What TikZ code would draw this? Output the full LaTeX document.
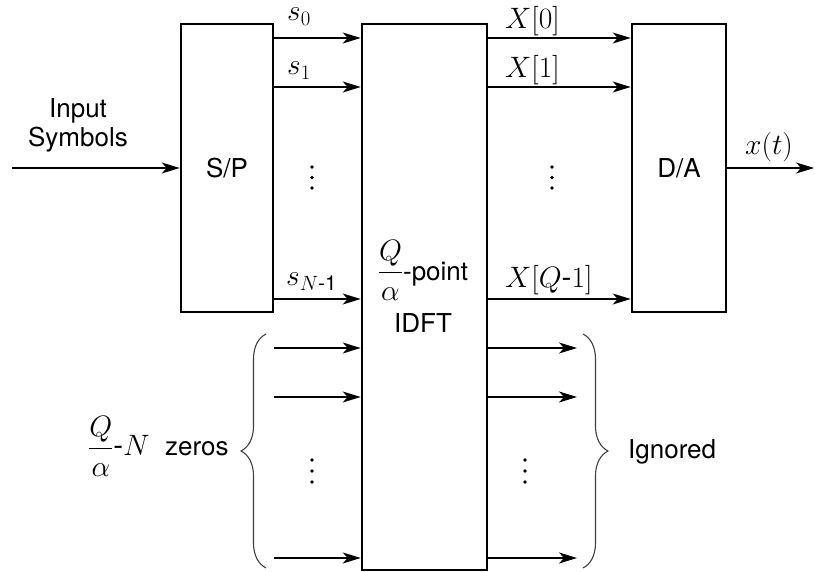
\RequirePackage{fix-cm}
\documentclass[tikz,border=0pt]{standalone}
\usepackage{amsmath}
\usepackage{fontspec}
\setmainfont{TeX Gyre Heros}
\usetikzlibrary{arrows.meta,decorations.pathreplacing}
\newcommand{\mfs}{\fontsize{29.5}{35}\selectfont}
\begin{document}
\begin{tikzpicture}[x=1pt,y=-1pt,
  font=\fontsize{26}{31}\selectfont,
  blk/.style={draw,line width=2.6pt,inner sep=0pt},
  arr/.style={line width=1.3pt,-{Stealth[length=18pt,width=11pt,inset=5pt]}},
  lbl/.style={inner sep=0pt,anchor=base west,font=\mfs},
  brc/.style={decorate,decoration={brace,amplitude=25pt},line width=1.1pt,draw=black!75},
  dotc/.style={fill=black}]
\useasboundingbox (0,0) rectangle (815,572);

% blocks
\node[blk,minimum width=92pt,minimum height=288pt] (sp) at (227,168) {S/P};
\node[blk,minimum width=125pt,minimum height=546pt] (idft) at (424.5,297) {};
\node[blk,minimum width=94pt,minimum height=288pt] (da) at (679,168) {D/A};
\node[inner sep=0pt,anchor=north,align=center] (idftlbl) at (423,240)
  {{\mfs$\dfrac{Q}{\alpha}$}-point\\[12pt]IDFT};

% row coordinates
\coordinate (in) at (12,168);
\coordinate (out) at (814,168);
\coordinate (r0) at (0,38);
\coordinate (r1) at (0,87);
\coordinate (rN) at (0,299);
\coordinate (z0) at (0,348);
\coordinate (z1) at (0,397);
\coordinate (zL) at (0,558);
\coordinate (ig0) at (577,348);
\coordinate (ig1) at (577,397);
\coordinate (igL) at (577,558);

% input / output
\node[inner sep=0pt,align=center,font=\fontsize{26}{29}\selectfont] (inlbl) at (78,125.5) {Input\\Symbols};
\draw[arr] (in) -- (sp.west |- in);
\draw[arr] (da.east |- out) -- (out);
\node[lbl] (xt) at (745,155) {$x(t)$};

% S/P -> IDFT
\draw[arr] (sp.east |- r0) -- (idft.west |- r0);
\draw[arr] (sp.east |- r1) -- (idft.west |- r1);
\draw[arr] (sp.east |- rN) -- (idft.west |- rN);
\node[lbl] (s0) at (287,21) {$s_0$};
\node[lbl] (s1) at (287,75) {$s_1$};
\node[lbl] (sN) at (286,286) {$s_{N\text{-1}}$};

% zeros
\draw[arr] (sp.east |- z0) -- (idft.west |- z0);
\draw[arr] (sp.east |- z1) -- (idft.west |- z1);
\draw[arr] (sp.east |- zL) -- (idft.west |- zL);

% IDFT -> D/A
\draw[arr] (idft.east |- r0) -- (da.west |- r0);
\draw[arr] (idft.east |- r1) -- (da.west |- r1);
\draw[arr] (idft.east |- rN) -- (da.west |- rN);
\node[lbl] (X0) at (505,29) {$X[0]$};
\node[lbl] (X1) at (505,78) {$X[1]$};
\node[lbl] (XQ) at (505,288) {$X[Q\text{-}1]$};

% ignored outputs
\draw[arr] (idft.east |- z0) -- (ig0);
\draw[arr] (idft.east |- z1) -- (ig1);
\draw[arr] (idft.east |- zL) -- (igL);

% braces
\coordinate (lbB) at (266,568);
\coordinate (lbT) at (266,334);
\coordinate (rbT) at (583,334);
\coordinate (rbB) at (583,568);
\draw[brc] (lbB) -- (lbT);
\draw[brc] (rbT) -- (rbB);
\node[inner sep=0pt,anchor=base west] (zeros) at (88,456) {{\mfs$\dfrac{Q}{\alpha}$-$N$}\hspace{0.6em}zeros};
\node[inner sep=0pt,anchor=base west] (ign) at (628,458) {Ignored};

% dots
\foreach \x/\y in {312/167,312/177.5,312/188,552/167,552/177.5,552/188,
                   312/460,312/471,312/482,525/460,525/471,525/482}
  \fill[dotc] (\x,\y) circle (1.9pt);
\end{tikzpicture}
\end{document}
